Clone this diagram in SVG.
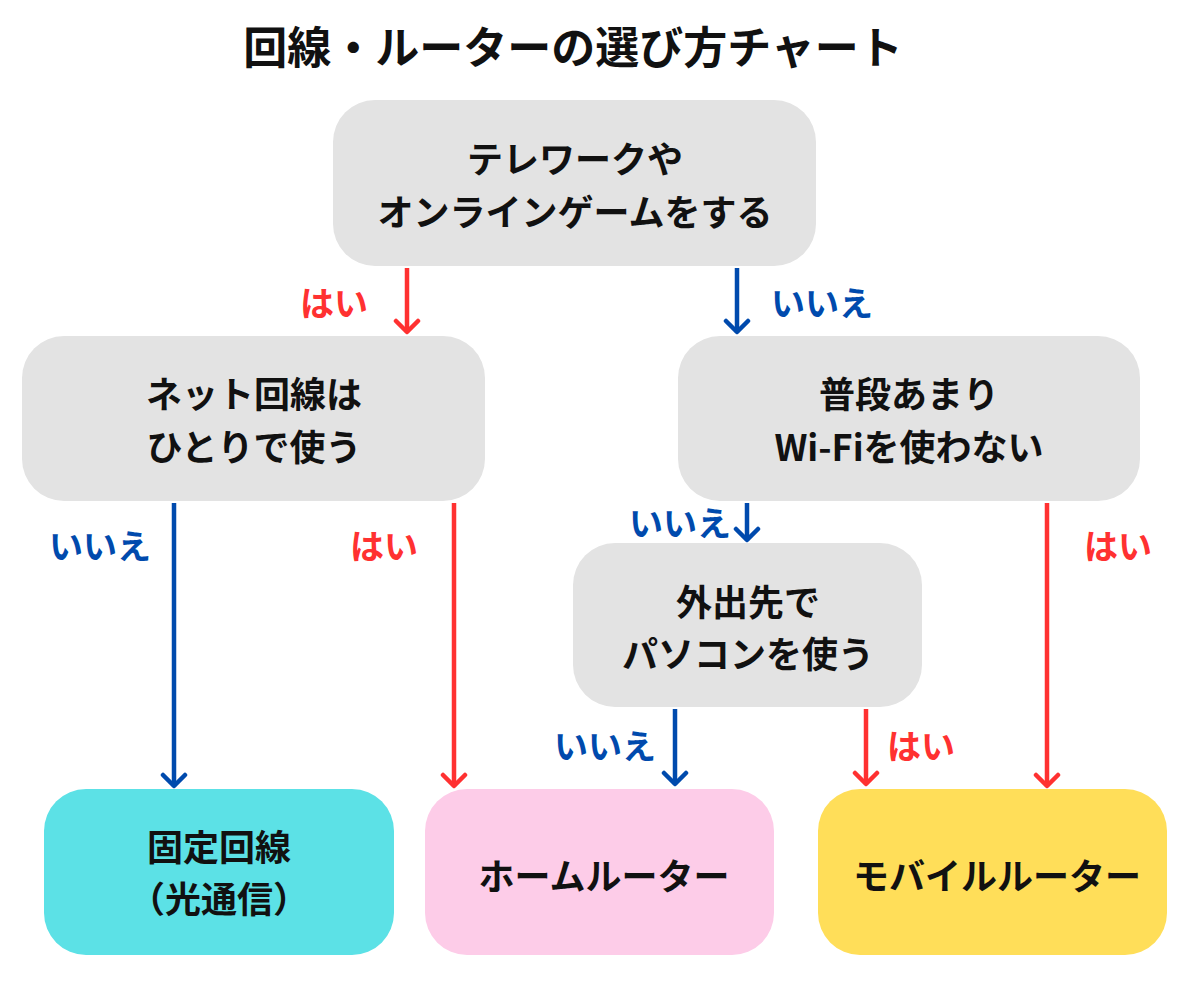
<svg xmlns="http://www.w3.org/2000/svg" width="1200" height="1005" viewBox="0 0 1200 1005">
<style>
text{font-family:"Noto Sans CJK JP","Noto Sans",sans-serif;font-weight:700;text-anchor:middle;dominant-baseline:central}
.title{font-size:44px;fill:#111}
.t{font-size:36px;fill:#111}
.q{fill:#e3e3e3}
.yes{fill:#ff3131;font-size:34px}
.no{fill:#004aad;font-size:34px}
.ly{stroke:#ff3131;stroke-width:4.5;fill:none}
.ln{stroke:#004aad;stroke-width:4.5;fill:none}
</style>
<defs>
<marker id="ar" viewBox="-14 -14 28 28" markerWidth="28" markerHeight="28" refX="0" refY="0" orient="auto" markerUnits="userSpaceOnUse">
<path d="M-11 -11 L0 0 L-11 11" fill="none" stroke="#ff3131" stroke-width="4.5" stroke-linecap="round" stroke-linejoin="round"/>
</marker>
<marker id="ab" viewBox="-14 -14 28 28" markerWidth="28" markerHeight="28" refX="0" refY="0" orient="auto" markerUnits="userSpaceOnUse">
<path d="M-11 -11 L0 0 L-11 11" fill="none" stroke="#004aad" stroke-width="4.5" stroke-linecap="round" stroke-linejoin="round"/>
</marker>
</defs>
<rect width="1200" height="1005" fill="#fff"/>
<text class="title" x="573" y="45">回線・ルーターの選び方チャート</text>

<g id="q1"><rect class="q" x="333" y="100" width="483" height="166" rx="42"/>
<text class="t" x="575" y="157">テレワークや</text><text class="t" x="575" y="210">オンラインゲームをする</text></g>
<g id="q2"><rect class="q" x="22" y="336" width="463" height="165" rx="42"/>
<text class="t" x="254" y="392">ネット回線は</text><text class="t" x="254" y="445">ひとりで使う</text></g>
<g id="q3"><rect class="q" x="678" y="336" width="462" height="165" rx="42"/>
<text class="t" x="909" y="392">普段あまり</text><text class="t" x="909" y="445">Wi-Fiを使わない</text></g>
<g id="q4"><rect class="q" x="573" y="543" width="349" height="164" rx="42"/>
<text class="t" x="748" y="600">外出先で</text><text class="t" x="748" y="652">パソコンを使う</text></g>
<g id="r1"><rect x="44" y="789" width="350" height="166" rx="42" fill="#5ce1e6"/>
<text class="t" x="219" y="845">固定回線</text><text class="t" x="219" y="897">（光通信）</text></g>
<g id="r2"><rect x="425" y="789" width="349" height="166" rx="42" fill="#fdcce8"/>
<text class="t" x="604" y="874">ホームルーター</text></g>
<g id="r3"><rect x="818" y="789" width="349" height="166" rx="42" fill="#ffde59"/>
<text class="t" x="997" y="874">モバイルルーター</text></g>

<g id="connectors">
<path class="ly" d="M407 268 V332" marker-end="url(#ar)"/>
<text class="yes" x="334" y="301">はい</text>
<path class="ln" d="M737 268 V332" marker-end="url(#ab)"/>
<text class="no" x="822" y="301">いいえ</text>
<path class="ln" d="M174 503 V786" marker-end="url(#ab)"/>
<text class="no" x="100" y="544">いいえ</text>
<path class="ly" d="M454 503 V786" marker-end="url(#ar)"/>
<text class="yes" x="384" y="544">はい</text>
<path class="ln" d="M747 503 V540" marker-end="url(#ab)"/>
<text class="no" x="680" y="521">いいえ</text>
<path class="ly" d="M1047 503 V786" marker-end="url(#ar)"/>
<text class="yes" x="1118" y="544">はい</text>
<path class="ln" d="M675 709 V784" marker-end="url(#ab)"/>
<text class="no" x="605" y="744">いいえ</text>
<path class="ly" d="M866 709 V784" marker-end="url(#ar)"/>
<text class="yes" x="921" y="744">はい</text>
</g>
</svg>
